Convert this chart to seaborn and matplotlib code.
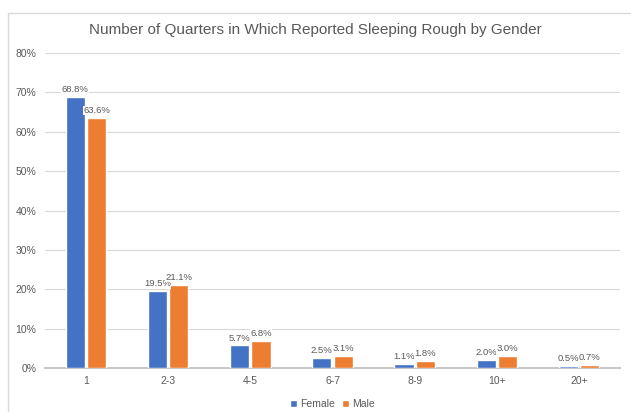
import pandas as pd
import matplotlib.pyplot as plt
import seaborn as sns
from matplotlib.patches import Rectangle

# Values (percent)
categories = ['1', '2-3', '4-5', '6-7', '8-9', '10+', '20+']
female = [68.8, 19.5, 5.7, 2.5, 1.1, 2.0, 0.5]
male = [63.6, 21.1, 6.8, 3.1, 1.8, 3.0, 0.7]

df = pd.DataFrame({
    'Quarters': categories * 2,
    'Share': female + male,
    'Gender': ['Female'] * len(categories) + ['Male'] * len(categories),
})

sns.set_theme(style='white')
plt.rcParams['font.family'] = ['Liberation Sans', 'DejaVu Sans']

fig = plt.figure(figsize=(6.31, 4.12), dpi=100)
ax = fig.add_axes([0.071, 0.107, 0.912, 0.764])

# light frame around the chart area
fig.patches.append(Rectangle((8 / 631, -0.1), 1.2, 1 - 13 / 412 + 0.1,
                             transform=fig.transFigure, fill=False,
                             edgecolor='#d9d9d9', linewidth=1, zorder=0))

sns.barplot(data=df, x='Quarters', y='Share', hue='Gender',
            palette=['#4472C4', '#ED7D31'], width=0.52, gap=0.1,
            saturation=1, ax=ax, zorder=3)

for cont in ax.containers:
    ax.bar_label(cont, labels=[f'{v:.1f}%' for v in cont.datavalues],
                 padding=2, fontsize=6.8, color='#595959',
                 bbox=dict(facecolor='white', edgecolor='none', pad=0.3))

ax.set_ylim(0, 80)
ax.set_yticks(range(0, 81, 10))
ax.set_yticklabels([f'{v}%' for v in range(0, 81, 10)])
ax.yaxis.grid(True, color='#d9d9d9', linewidth=0.8, zorder=0)
ax.set_axisbelow(True)
for s in ['left', 'right', 'top']:
    ax.spines[s].set_visible(False)
ax.spines['bottom'].set_color('#bfbfbf')
ax.tick_params(axis='both', length=0, labelsize=7.5, colors='#595959', pad=6)
ax.set_xlabel('')
ax.set_ylabel('')

fig.text(0.5, 1 - 30 / 412, 'Number of Quarters in Which Reported Sleeping Rough by Gender',
         ha='center', va='center', fontsize=11, color='#595959')

ax.legend(loc='lower center', bbox_to_anchor=(0.5, -0.16), ncol=2, frameon=False,
          fontsize=7.5, handlelength=0.7, handleheight=0.7, handletextpad=0.3,
          columnspacing=0.6, labelcolor='#595959')

fig.savefig('out.png', dpi=100)
